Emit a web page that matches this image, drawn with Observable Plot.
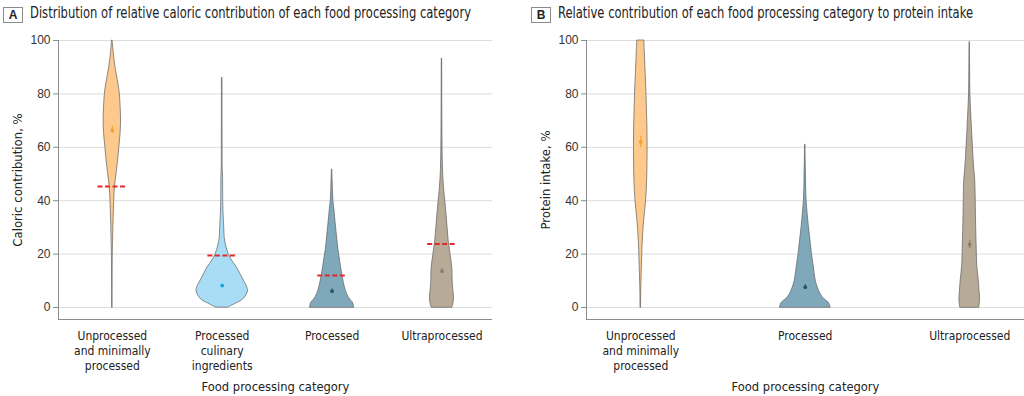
<!DOCTYPE html>
<html><head><meta charset="utf-8">
<script src="https://cdn.jsdelivr.net/npm/d3@7"></script>
<script src="https://cdn.jsdelivr.net/npm/@observablehq/plot@0.6"></script>
<style>
body{margin:0;background:#fff;font-family:"Liberation Sans Narrow","DejaVu Sans Condensed","Roboto Condensed",sans-serif;}
#wrap{position:relative;width:1024px;height:396px;overflow:hidden;background:#fff}
.panel{position:absolute;top:0;width:512px;height:396px}
.title{position:absolute;top:6px;font-size:15px;line-height:15px;color:#222;white-space:nowrap;transform-origin:0 50%}
.badge{position:absolute;top:7px;width:18px;height:14px;border:1px solid #8a8a8a;font:bold 12px "Liberation Sans",Arial,sans-serif;text-align:center;line-height:14px;color:#222;box-sizing:content-box}
.plot{position:absolute;top:28px;left:0}
</style></head>
<body><div id="wrap"></div>
<script>
// ---------- Panel A: caloric contribution ----------
const catsA = ["Unprocessed\nand minimally\nprocessed", "Processed\nculinary\ningredients", "Processed", "Ultraprocessed"];
// violin profiles: value levels (%) and half-widths (px)
const aUnprocY = [0, 10, 21, 26, 31, 36, 41, 45, 51, 56, 60, 65, 70, 75, 81, 86, 91, 96, 100];
const aUnprocW = [0.3, 0.3, 0.5, 0.8, 1.1, 1.5, 2, 2.6, 4.5, 6, 7, 8.2, 8.7, 8.3, 7.2, 5, 2.7, 1.2, 0.3];
const aCulinY = [0, 1.5, 3, 6, 8, 10, 13, 15, 17.5, 20, 23, 26, 30, 33, 38, 44, 48, 52, 60, 86];
const aCulinW = [6, 14, 21, 25.7, 24.5, 21.7, 17.5, 14.7, 10, 6.5, 4, 2.5, 2, 1.6, 1.1, 0.9, 0.9, 0.5, 0.4, 0.3];
const aProcY = [0, 1, 2, 3, 5, 8, 11.3, 15, 18.8, 22, 26.3, 30, 33.8, 37, 40, 44, 48, 51.7];
const aProcW = [22, 21.5, 20.5, 18, 15, 12.5, 10.7, 9, 7.5, 6.2, 5, 4, 3, 2.2, 1.3, 0.8, 0.5, 0.2];
const aUltraY = [0, 1.5, 4, 7, 10, 15, 20, 25, 30, 35, 40, 44, 48, 52, 60, 70, 80, 93.2];
const aUltraW = [10.3, 11.5, 12, 11.2, 10.7, 10.3, 8.5, 6.7, 5.6, 4.5, 3.3, 2.2, 1.5, 1, 0.6, 0.4, 0.3, 0.2];
const aMeans = [66.3, 8.2, 6.1, 13.6];
const aCiLow = [65.2, 7.7, 5.3, 12.7];
const aCiHigh = [67.9, 8.7, 6.9, 14.5];
const aRefs = [45.3, 19.5, 12.0, 23.8];

// ---------- Panel B: protein intake ----------
const catsB = ["Unprocessed\nand minimally\nprocessed", "Processed", "Ultraprocessed"];
const bUnprocY = [0, 6, 10, 14, 18, 22.5, 27, 31, 36, 41, 47, 54, 60, 66, 72, 79, 85, 91, 96, 100];
const bUnprocW = [0.3, 0.4, 0.7, 1, 1.3, 1.7, 2.3, 3, 4.3, 5.5, 6.3, 6.7, 6.8, 6.7, 6.3, 5.8, 5.2, 4.5, 4, 3.5];
const bProcY = [0, 1, 2, 3, 5, 7.5, 10, 15, 20, 25, 30, 35, 40, 45, 50, 55, 61];
const bProcW = [25.3, 24.5, 23, 19.5, 15.3, 12.5, 10.5, 8.6, 6.7, 5.2, 3.7, 2.4, 1.3, 0.9, 0.7, 0.4, 0.2];
const bUltraY = [0, 2, 4, 6, 9, 13, 16, 22, 29, 35, 40, 44, 47.5, 52, 56, 60, 65, 70, 75, 80, 88, 99.4];
const bUltraW = [9.5, 10.2, 10.3, 9.8, 9.3, 8.2, 7.5, 7, 6.5, 6.2, 6, 5.8, 5.5, 4.5, 3.8, 3.2, 2.5, 1.8, 1.2, 0.7, 0.4, 0.2];
const bMeans = [62, 7.6, 23.6];
const bCiLow = [59.9, 6.7, 22.1];
const bCiHigh = [64.1, 8.5, 25.2];

const yTicks = [0, 20, 40, 60, 80, 100];

const fillsA = ["#fec98c", "#a9ddf6", "#7fa9ba", "#b7aa97"];
const dotsA = ["#f5a13a", "#179fe6", "#2a5364", "#8b7e6e"];
const fillsB = ["#fec98c", "#7fa9ba", "#b7aa97"];
const dotsB = ["#f5a13a", "#2a5364", "#8b7e6e"];

const condensed = "'Liberation Sans Narrow','DejaVu Sans Condensed',sans-serif";

function violinRows(i, ys, ws, stepPx) {
  return ys.map((v, k) => ({v, x1: i - ws[k] / stepPx, x2: i + ws[k] / stepPx}));
}

function panel({cats, profiles, means, lo, hi, refs, fills, dots, xDomain, marginLeft, marginRight, ylabel}) {
  const width = 512, height = 368, marginTop = 12, marginBottom = 77;
  const yDomain = [-4.5, 100];
  const stepPx = (width - marginLeft - marginRight) / (xDomain[1] - xDomain[0]);
  const marks = [
    Plot.gridY(yTicks, {stroke: "#dcdcdc", strokeOpacity: 1, strokeWidth: 1})
  ];
  profiles.forEach(([ys, ws], i) => {
    marks.push(Plot.areaX(violinRows(i, ys, ws, stepPx), {
      y: "v", x1: "x1", x2: "x2", curve: "catmull-rom",
      fill: fills[i], stroke: "#5e5e5e", strokeWidth: 0.7
    }));
  });
  if (refs) {
    const half = 14.3 / stepPx;
    marks.push(Plot.ruleY(refs.map((v, i) => ({i, v})), {
      y: "v", x1: d => d.i - half, x2: d => d.i + half,
      stroke: "#e5282c", strokeWidth: 2, strokeDasharray: "5,2.5"
    }));
  }
  const mrows = means.map((m, i) => ({i, m, lo: lo[i], hi: hi[i]}));
  marks.push(Plot.ruleX(mrows, {x: "i", y1: "lo", y2: "hi", stroke: d => dots[d.i], strokeWidth: 1.2}));
  marks.push(Plot.dot(mrows, {x: "i", y: "m", r: 1.9, fill: d => dots[d.i], stroke: "none"}));
  marks.push(Plot.ruleY([yDomain[0]], {stroke: "#8c8c8c", strokeWidth: 1}));
  marks.push(Plot.ruleX([xDomain[0]], {y1: yDomain[0], y2: 100, stroke: "#8c8c8c", strokeWidth: 1}));
  marks.push(Plot.axisY(yTicks, {
    tickSize: 5, tickPadding: 3, stroke: "#8c8c8c", fontSize: 12, fill: "#333",
    fontFamily: "'Liberation Sans', Arial, sans-serif", label: null
  }));
  marks.push(Plot.text([ylabel], {
    frameAnchor: "left", rotate: -90, dx: -41, fontSize: 13, fill: "#222", fontFamily: condensed, textAnchor: "middle"
  }));
  marks.push(Plot.axisX(cats.map((c, i) => i), {
    tickSize: 0, tickPadding: 10, tickFormat: i => cats[i], fontSize: 12, lineHeight: 1.25, fill: "#222",
    fontFamily: condensed, label: null
  }));
  marks.push(Plot.text(["Food processing category"], {
    frameAnchor: "bottom", dy: 71, fontSize: 12.8, fill: "#222", fontFamily: condensed
  }));
  return Plot.plot({
    width, height, marginTop, marginBottom, marginLeft, marginRight,
    style: {fontFamily: condensed, fontSize: "13px", color: "#222", background: "transparent", overflow: "visible"},
    x: {type: "linear", domain: xDomain},
    y: {domain: yDomain},
    marks
  });
}

const wrap = document.getElementById("wrap");
function addPanel(left, letter, title, titleLeft, titleWidth, plot) {
  const p = document.createElement("div");
  p.className = "panel"; p.style.left = left + "px";
  const b = document.createElement("div");
  b.className = "badge"; b.style.left = (titleLeft - 27) + "px"; b.textContent = letter;
  const t = document.createElement("div");
  t.className = "title"; t.style.left = titleLeft + "px"; t.textContent = title;
  plot.classList.add("plot");
  p.append(b, t, plot);
  wrap.append(p);
  const w = t.getBoundingClientRect().width;
  if (w > 0) t.style.transform = `scaleX(${titleWidth / w})`;
}

addPanel(0, "A", "Distribution of relative caloric contribution of each food processing category", 30, 441,
  panel({
    cats: catsA,
    profiles: [[aUnprocY, aUnprocW], [aCulinY, aCulinW], [aProcY, aProcW], [aUltraY, aUltraW]],
    means: aMeans, lo: aCiLow, hi: aCiHigh, refs: aRefs, fills: fillsA, dots: dotsA,
    xDomain: [-0.49, 3.46], marginLeft: 58, marginRight: 20, ylabel: "Caloric contribution, %"
  }));
addPanel(512, "B", "Relative contribution of each food processing category to protein intake", 46, 415,
  panel({
    cats: catsB,
    profiles: [[bUnprocY, bUnprocW], [bProcY, bProcW], [bUltraY, bUltraW]],
    means: bMeans, lo: bCiLow, hi: bCiHigh, refs: null, fills: fillsB, dots: dotsB,
    xDomain: [-0.33, 2.333], marginLeft: 74, marginRight: 0, ylabel: "Protein intake, %"
  }));
</script>
</body></html>
